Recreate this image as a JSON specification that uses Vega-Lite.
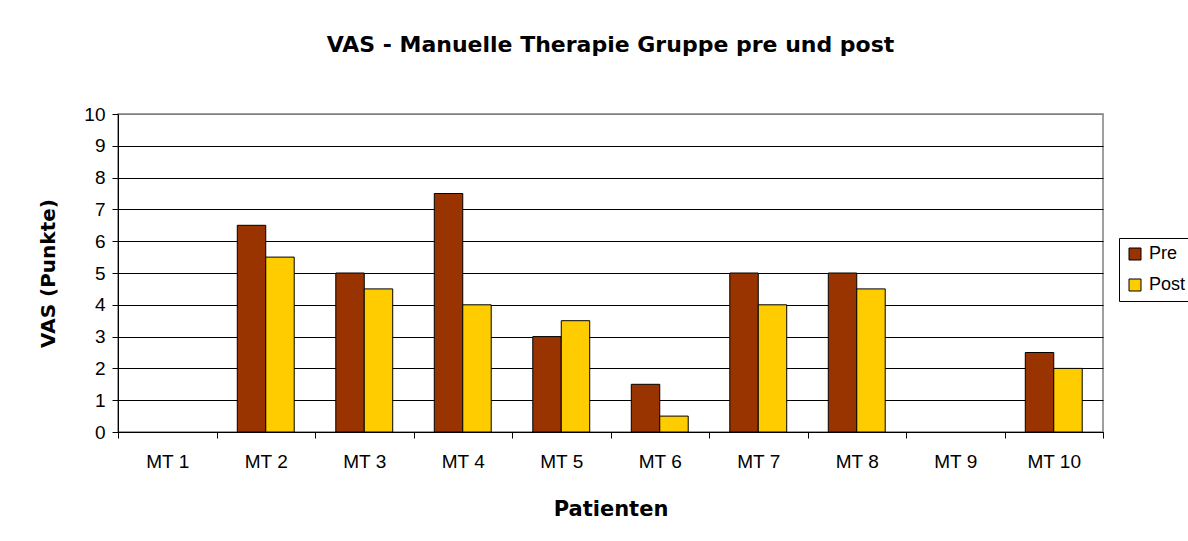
{
  "$schema": "https://vega.github.io/schema/vega-lite/v6.json",
  "autosize": "none",
  "width": 985,
  "height": 318,
  "padding": {"left": 118, "top": 114, "right": 85, "bottom": 109},
  "background": "white",
  "config": {
    "font": "Liberation Sans",
    "view": {"stroke": "#808080", "strokeWidth": 1.5}
  },
  "title": {
    "text": "VAS - Manuelle Therapie Gruppe pre und post",
    "font": "DejaVu Sans",
    "fontSize": 22,
    "fontWeight": "bold",
    "color": "black",
    "anchor": "middle",
    "offset": 48
  },
  "data": {
    "values": [
      {"patient": "MT 1", "serie": "Pre", "vas": 0},
      {"patient": "MT 1", "serie": "Post", "vas": 0},
      {"patient": "MT 2", "serie": "Pre", "vas": 6.5},
      {"patient": "MT 2", "serie": "Post", "vas": 5.5},
      {"patient": "MT 3", "serie": "Pre", "vas": 5},
      {"patient": "MT 3", "serie": "Post", "vas": 4.5},
      {"patient": "MT 4", "serie": "Pre", "vas": 7.5},
      {"patient": "MT 4", "serie": "Post", "vas": 4},
      {"patient": "MT 5", "serie": "Pre", "vas": 3},
      {"patient": "MT 5", "serie": "Post", "vas": 3.5},
      {"patient": "MT 6", "serie": "Pre", "vas": 1.5},
      {"patient": "MT 6", "serie": "Post", "vas": 0.5},
      {"patient": "MT 7", "serie": "Pre", "vas": 5},
      {"patient": "MT 7", "serie": "Post", "vas": 4},
      {"patient": "MT 8", "serie": "Pre", "vas": 5},
      {"patient": "MT 8", "serie": "Post", "vas": 4.5},
      {"patient": "MT 9", "serie": "Pre", "vas": 0},
      {"patient": "MT 9", "serie": "Post", "vas": 0},
      {"patient": "MT 10", "serie": "Pre", "vas": 2.5},
      {"patient": "MT 10", "serie": "Post", "vas": 2}
    ]
  },
  "mark": {"type": "bar", "stroke": "black", "strokeWidth": 1},
  "encoding": {
    "x": {
      "field": "patient",
      "type": "nominal",
      "sort": null,
      "scale": {"paddingInner": 0, "paddingOuter": 0},
      "axis": {
        "title": "Patienten",
        "titleFont": "DejaVu Sans",
        "titleFontSize": 21,
        "titleFontWeight": "bold",
        "titleColor": "black",
        "titlePadding": 27,
        "labelAngle": 0,
        "labelFontSize": 19,
        "labelColor": "black",
        "labelPadding": 14,
        "tickBand": "extent",
        "tickSize": 6,
        "tickColor": "black",
        "domainColor": "black",
        "grid": false
      }
    },
    "xOffset": {
      "field": "serie",
      "type": "nominal",
      "sort": ["Pre", "Post"],
      "scale": {"paddingInner": 0, "paddingOuter": 0.73}
    },
    "y": {
      "field": "vas",
      "type": "quantitative",
      "scale": {"domain": [0, 10], "nice": false},
      "axis": {
        "title": "VAS (Punkte)",
        "titleFont": "DejaVu Sans",
        "titleFontSize": 20,
        "titleFontWeight": "bold",
        "titleColor": "black",
        "titlePadding": 25,
        "values": [0, 1, 2, 3, 4, 5, 6, 7, 8, 9, 10],
        "labelFontSize": 19,
        "labelColor": "black",
        "labelPadding": 7,
        "tickSize": 6,
        "tickColor": "black",
        "domainColor": "black",
        "gridColor": {"condition": {"test": "datum.value == 10", "value": "#808080"}, "value": "black"},
        "gridOpacity": 1
      }
    },
    "strokeOpacity": {
      "condition": {"test": "datum.vas > 0", "value": 1},
      "value": 0
    },
    "color": {
      "field": "serie",
      "type": "nominal",
      "sort": ["Pre", "Post"],
      "scale": {"domain": ["Pre", "Post"], "range": ["#993300", "#FFCC00"]},
      "legend": {
        "title": null,
        "orient": "none",
        "legendX": 1001,
        "legendY": 124,
        "strokeColor": "black",
        "padding": 7,
        "labelFontSize": 18,
        "labelColor": "black",
        "symbolType": "square",
        "symbolSize": 144,
        "symbolStrokeColor": "black",
        "symbolStrokeWidth": 1,
        "symbolOpacity": 1,
        "rowPadding": 13,
        "labelOffset": 5
      }
    }
  }
}
